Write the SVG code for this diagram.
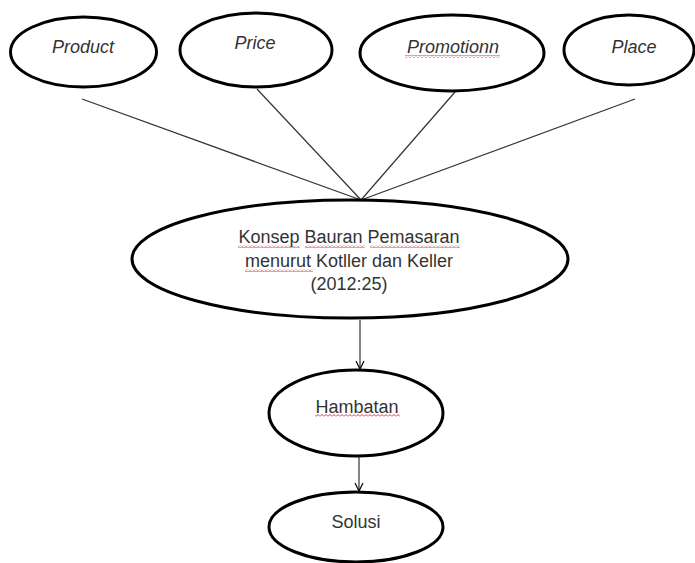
<svg xmlns="http://www.w3.org/2000/svg" width="695" height="563" viewBox="0 0 695 563">
<style>
.node ellipse{fill:#fff;stroke:#000;stroke-width:3}
.lbl{font-family:"Liberation Sans",Arial,sans-serif;font-size:18px;fill:#333;text-anchor:middle}
.it{font-style:italic}
.edge{stroke:#333;stroke-width:1.2;fill:none}
.wavy{fill:url(#wave)}
</style>
<defs>
<pattern id="wave" patternUnits="userSpaceOnUse" width="4" height="3">
<path d="M0,2.5 L2,0.5 L4,2.5" stroke="#e02020" stroke-width="0.9" fill="none"/>
</pattern>
<marker id="arr" markerWidth="10" markerHeight="10" refX="9" refY="5" orient="auto" markerUnits="userSpaceOnUse" viewBox="0 0 10 10">
<path d="M1,1 L9,5 L1,9" stroke="#000" stroke-width="1.2" fill="none"/>
</marker>
</defs>
<rect width="695" height="563" fill="#fff"/>
<g id="connectors">
<line class="edge" x1="82" y1="99" x2="361" y2="200"/>
<line class="edge" x1="257" y1="89" x2="361" y2="200"/>
<line class="edge" x1="455" y1="92" x2="361" y2="200"/>
<line class="edge" x1="635" y1="99" x2="361" y2="200"/>
<line class="edge" x1="360" y1="320" x2="360" y2="369" stroke="#000" marker-end="url(#arr)"/>
<line class="edge" x1="359" y1="457" x2="359" y2="491" stroke="#000" marker-end="url(#arr)"/>
</g>
<g id="product" class="node">
<ellipse cx="83.5" cy="52" rx="73" ry="35"/>
<text class="lbl it" x="83" y="53">Product</text>
</g>
<g id="price" class="node">
<ellipse cx="256" cy="50" rx="76" ry="37"/>
<text class="lbl it" x="255" y="49">Price</text>
</g>
<g id="promotionn" class="node">
<ellipse cx="452" cy="53" rx="92" ry="38"/>
<text class="lbl it" x="453" y="53">Promotionn</text>
<rect class="wavy" x="405" y="55" width="95" height="3"/>
</g>
<g id="place" class="node">
<ellipse cx="629" cy="50" rx="65" ry="35"/>
<text class="lbl it" x="634" y="53">Place</text>
</g>
<g id="konsep" class="node">
<ellipse cx="350" cy="259" rx="218" ry="59"/>
<text class="lbl" x="349" y="243">Konsep Bauran Pemasaran</text>
<text class="lbl" x="349" y="267">menurut Kotller dan Keller</text>
<text class="lbl" x="349" y="290">(2012:25)</text>
<rect class="wavy" x="238" y="245" width="62" height="3"/>
<rect class="wavy" x="305" y="245" width="60" height="3"/>
<rect class="wavy" x="370" y="245" width="90" height="3"/>
<rect class="wavy" x="245" y="269" width="68" height="3"/>
</g>
<g id="hambatan" class="node">
<ellipse cx="356" cy="413" rx="87" ry="43"/>
<text class="lbl" x="357" y="413">Hambatan</text>
<rect class="wavy" x="315" y="414" width="85" height="3"/>
</g>
<g id="solusi" class="node">
<ellipse cx="356" cy="527" rx="87" ry="35"/>
<text class="lbl" x="356" y="528">Solusi</text>
</g>
</svg>
